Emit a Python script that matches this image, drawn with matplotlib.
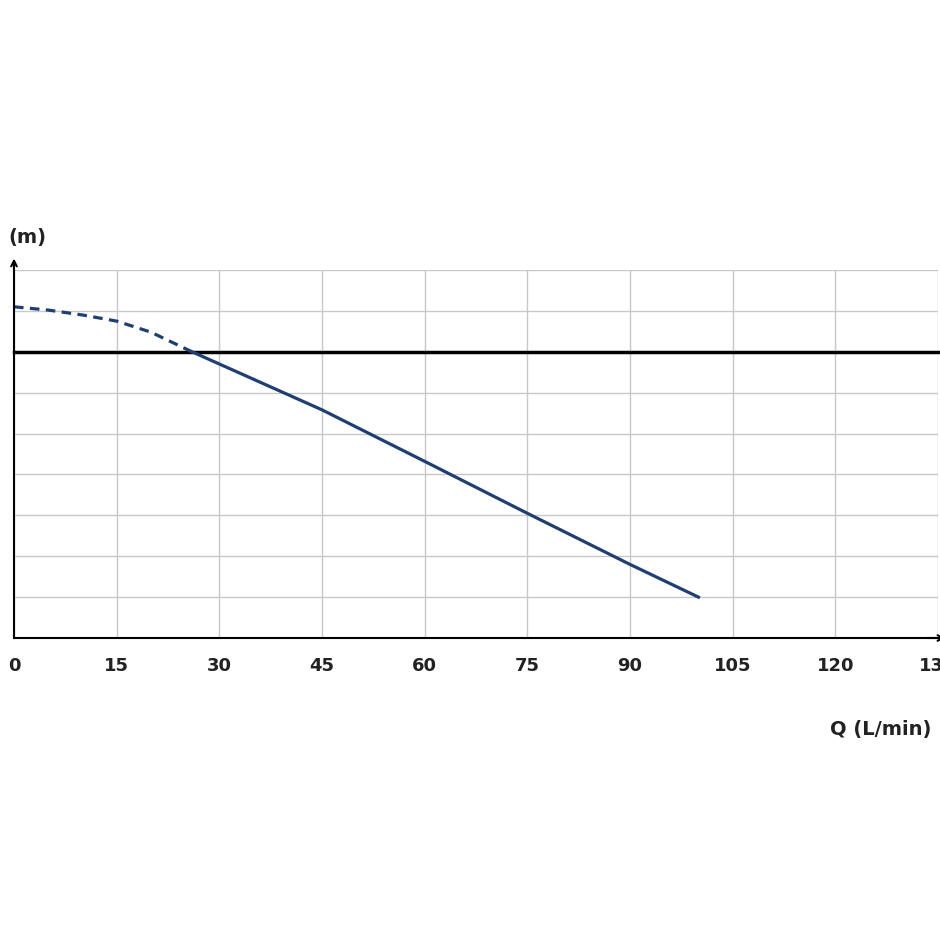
import matplotlib
matplotlib.use("Agg")
import matplotlib.pyplot as plt

x_ticks = [0, 15, 30, 45, 60, 75, 90, 105, 120, 135]
dash_q = [0, 5, 10, 15, 20, 26]
dash_h = [8.1, 8.02, 7.9, 7.75, 7.48, 7.0]
solid_q = [26, 45, 60, 75, 90, 100]
solid_h = [7.0, 5.58, 4.32, 3.05, 1.8, 1.0]
ref_level = 7.0

fig = plt.figure(figsize=(9.4, 9.4), dpi=100)
ax = fig.add_axes([14/940, 1-638/940, 924/940, 368/940])
ax.set_xlim(0, 135)
ax.set_ylim(0, 9)
ax.set_xticks(x_ticks)
ax.set_yticks(range(0, 10))
ax.grid(True, color="#c8c8c8", lw=1)
ax.tick_params(length=0, labelleft=False, labelsize=13, pad=14, colors="#222222")
for t in ax.get_xticklabels():
    t.set_fontweight("bold")
for s in ["top", "right"]:
    ax.spines[s].set_visible(False)
ax.spines["left"].set_linewidth(1.5)
ax.spines["bottom"].set_linewidth(1.5)
ax.axhline(ref_level, color="black", lw=2.5, clip_on=False)
ax.plot(dash_q, dash_h, color="#1f3f73", lw=2.3, ls=(0, (3, 2)))
ax.plot(solid_q, solid_h, color="#1f3f73", lw=2.3)
ax.annotate("", xy=(0, 9.35), xytext=(0, 8.9), xycoords="data",
            arrowprops=dict(arrowstyle="->", lw=1.5, color="black"), annotation_clip=False)
ax.annotate("", xy=(136.5, 0), xytext=(133, 0),
            arrowprops=dict(arrowstyle="->", lw=1.5, color="black"), annotation_clip=False)
fig.text(8/940, 1-238/940, "(m)", fontsize=14, fontweight="bold", va="center", color="#222222")
fig.text(830/940, 1-730/940, "Q (L/min)", fontsize=14, fontweight="bold", va="center", color="#222222")
fig.savefig("out.png", dpi=100, facecolor="white")
